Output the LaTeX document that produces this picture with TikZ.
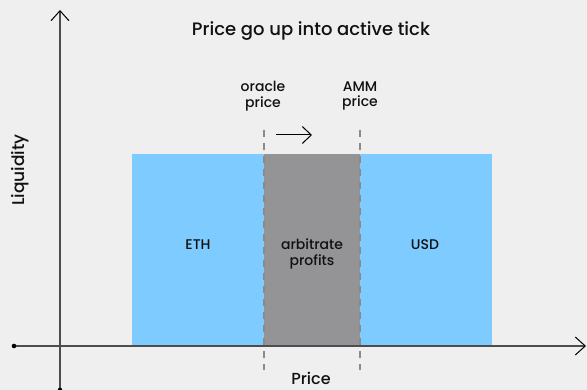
\documentclass[tikz,border=0pt]{standalone}
\usepackage{fontspec}
\setmainfont{Poppins Medium}
\usetikzlibrary{arrows.meta}
\definecolor{bgc}{HTML}{EFEFEF}
\definecolor{bluec}{HTML}{7DCBFF}
\definecolor{greyc}{HTML}{949497}
\definecolor{axisc}{HTML}{4D4D4D}
\definecolor{dashc}{HTML}{8A8A8A}
\definecolor{txtc}{HTML}{111111}
\tikzset{
  axisline/.style={draw=axisc, line width=1.3pt},
  tip/.style={-{Straight Barb[length=10pt,width=18pt,line width=1pt,color=black]}},
  tickdash/.style={draw=dashc, line width=1.4pt, dash pattern=on 7pt off 6pt},
  lbl/.style={text=txtc, font=\fontsize{14}{15.5}\selectfont, align=center, inner sep=0pt},
}
\begin{document}
\begin{tikzpicture}[x=1pt,y=-1pt]
\fill[bgc] (0,0) rectangle (587,390);
\useasboundingbox (0,0) rectangle (587,390);
% coordinates
\coordinate (xstart) at (14,346);
\coordinate (xend) at (586,346);
\coordinate (ystart) at (60,390);
\coordinate (yend) at (60,10);
% rectangles
\fill[bluec] (132,154) rectangle (492,346);
\fill[greyc] (264,154) rectangle (360,346);
% dashed lines
\coordinate (d1t) at (264,130);
\coordinate (d1b) at (264,370);
\coordinate (d2t) at (360,130);
\coordinate (d2b) at (360,370);
\draw[tickdash] (d1t) -- (d1b);
\draw[tickdash] (d2t) -- (d2b);
% axes
\draw[axisline, tip] (xstart) -- (xend);
\draw[axisline, tip] (ystart) -- (yend);
\fill[black] (xstart) circle (2.3);
\fill[black] (ystart) circle (2.3);
% small arrow
\coordinate (a1) at (276,135);
\coordinate (a2) at (312,135);
\draw[black, line width=1pt, -{Straight Barb[length=9pt,width=17pt,line width=1pt]}] (a1) -- (a2);
% texts
\node[lbl, font=\fontsize{18}{20}\selectfont] (title) at (311,31) {Price go up into active tick};
\node[lbl] (oracle) at (263,96) {oracle\\price};
\node[lbl] (amm) at (360,96) {AMM\\price};
\node[lbl] (eth) at (198,245) {ETH};
\node[lbl] (arb) at (312,254) {arbitrate\\profits};
\node[lbl] (usd) at (425,245) {USD};
\node[lbl, font=\fontsize{16}{18}\selectfont] (xlabel) at (311,378) {Price};
\node[lbl, font=\fontsize{17}{19}\selectfont, rotate=90] (ylabel) at (20,170) {Liquidity};
\end{tikzpicture}
\end{document}
